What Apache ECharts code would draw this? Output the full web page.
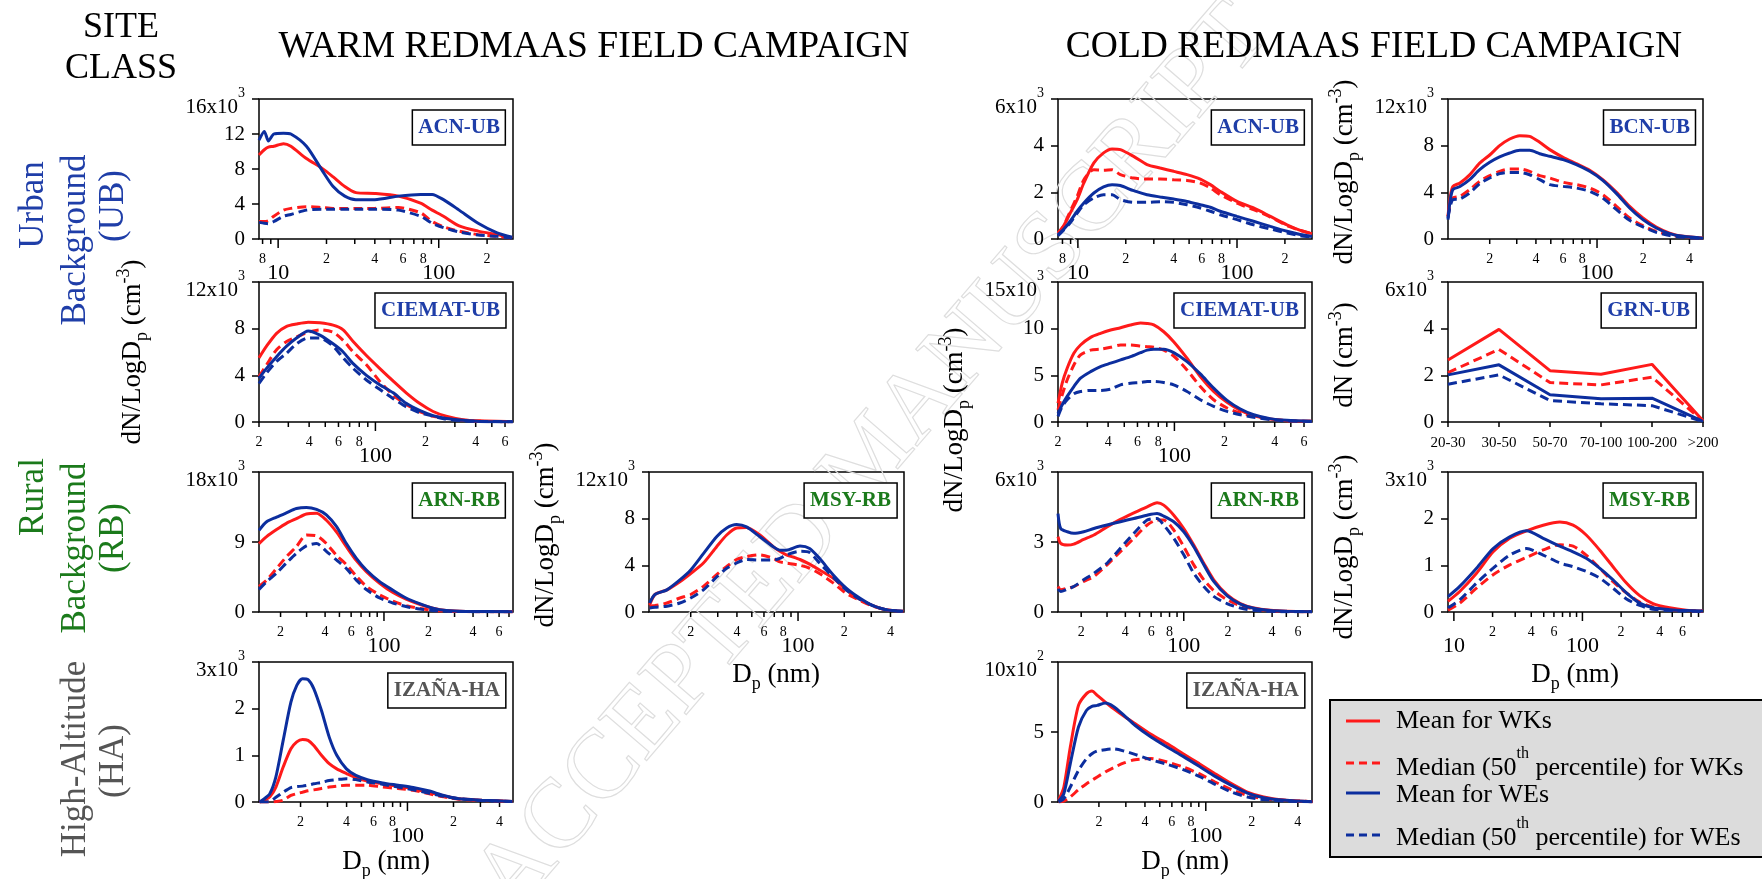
<!DOCTYPE html>
<html><head><meta charset="utf-8">
<script src="https://cdn.jsdelivr.net/npm/echarts@6/dist/echarts.min.js"></script>
<style>html,body{margin:0;padding:0;background:#fff}#c{width:1762px;height:879px}</style>
</head><body><div id="c"></div>
<script>
// ---------------- DATA ----------------
// Warm campaign, ACN-UB (x: Dp in nm, y: dN/dlogDp in 10^3 cm^-3)
var wAcnD      = [7.6, 8.2, 8.7, 9.4, 10.8, 12, 15, 18.7, 22, 26, 30.5, 40, 56, 77, 91, 107, 134, 176, 231, 287];
var wAcnMeanWK = [9.6, 10.2, 10.5, 10.6, 10.9, 10.6, 9.2, 8.1, 7.1, 6.0, 5.3, 5.2, 4.9, 4.1, 3.3, 2.6, 1.5, 0.9, 0.5, 0.15];
var wAcnMedWK  = [2.0, 2.0, 2.1, 2.6, 3.3, 3.5, 3.7, 3.6, 3.5, 3.5, 3.5, 3.5, 3.6, 3.0, 2.0, 1.4, 0.9, 0.5, 0.3, 0.1];
var wAcnMeanWE = [11.3, 12.3, 11.2, 12.0, 12.1, 12.0, 10.6, 7.9, 6.0, 4.9, 4.5, 4.5, 4.9, 5.1, 5.1, 4.5, 3.3, 1.8, 0.7, 0.2];
var wAcnMedWE  = [1.9, 1.8, 1.75, 2.0, 2.6, 2.8, 3.3, 3.4, 3.4, 3.4, 3.4, 3.4, 3.3, 2.6, 1.8, 1.3, 0.8, 0.45, 0.3, 0.1];

// Warm, CIEMAT-UB
var wCieD      = [20, 22.2, 25.5, 29.3, 33.6, 39.5, 46.4, 55.7, 64, 73.5, 88.3, 106, 128, 153, 184, 222, 266, 335, 422, 668];
var wCieMeanWK = [5.5, 6.5, 7.6, 8.2, 8.4, 8.55, 8.5, 8.3, 7.9, 6.9, 5.7, 4.6, 3.5, 2.5, 1.6, 0.9, 0.5, 0.2, 0.1, 0.03];
var wCieMedWK  = [3.9, 4.9, 6.2, 6.9, 7.3, 7.7, 7.9, 7.7, 7.0, 6.0, 4.9, 3.5, 2.3, 1.5, 0.9, 0.5, 0.35, 0.15, 0.06, 0.02];
var wCieMeanWE = [3.75, 4.6, 5.6, 6.5, 7.2, 7.8, 7.45, 6.7, 6.0, 5.0, 4.0, 3.2, 2.5, 1.6, 1.0, 0.55, 0.3, 0.15, 0.05, 0.02];
var wCieMedWE  = [3.3, 4.2, 5.2, 5.9, 6.7, 7.2, 7.2, 6.5, 5.5, 4.6, 3.6, 2.8, 2.0, 1.3, 0.8, 0.5, 0.25, 0.1, 0.05, 0.02];

// Warm, ARN-RB
var wArnD      = [14.3, 16.1, 18.8, 21.9, 25.6, 29.9, 35, 40.8, 47.7, 55.7, 65.1, 76, 93.5, 115, 141, 174, 214, 263, 359, 741];
var wArnMeanWK = [8.8, 9.7, 10.6, 11.4, 12.0, 12.6, 12.7, 11.8, 10.3, 8.4, 6.6, 5.2, 3.7, 2.5, 1.66, 1.0, 0.5, 0.2, 0.08, 0.03];
var wArnMedWK  = [3.3, 4.1, 5.6, 7.1, 8.4, 9.9, 9.8, 8.8, 7.3, 6.1, 4.6, 3.3, 2.2, 1.4, 0.8, 0.47, 0.2, 0.1, 0.05, 0.02];
var wArnMeanWE = [10.5, 11.6, 12.2, 12.75, 13.3, 13.45, 13.2, 12.5, 11.0, 8.8, 6.9, 5.4, 3.9, 2.8, 1.8, 1.07, 0.5, 0.2, 0.08, 0.03];
var wArnMedWE  = [2.9, 3.9, 5.0, 6.3, 7.55, 8.5, 8.8, 7.8, 6.7, 5.6, 4.1, 2.9, 1.8, 1.15, 0.7, 0.38, 0.2, 0.1, 0.05, 0.02];

// Warm, MSY-RB
var wMsyD      = [10.8, 11.7, 14, 17, 20, 24.2, 29.5, 34.3, 39.8, 46.2, 56.4, 68.9, 76.1, 84, 103, 119, 138, 169, 206, 252, 307, 375, 485];
var wMsyMeanWK = [0.6, 1.5, 1.9, 2.6, 3.3, 4.2, 5.6, 6.6, 7.2, 7.25, 6.6, 5.6, 5.2, 4.9, 4.5, 4.1, 3.6, 2.9, 1.9, 1.1, 0.55, 0.2, 0.06];
var wMsyMedWK  = [0.5, 0.55, 0.77, 1.2, 1.5, 2.2, 3.2, 3.9, 4.5, 4.75, 4.9, 4.6, 4.3, 4.2, 4.0, 3.75, 3.3, 2.5, 1.6, 1.0, 0.5, 0.2, 0.05];
var wMsyMeanWE = [0.77, 1.5, 1.9, 2.75, 3.6, 5.0, 6.45, 7.2, 7.5, 7.3, 6.45, 5.6, 5.3, 5.3, 5.65, 5.45, 4.6, 3.2, 2.05, 1.2, 0.55, 0.2, 0.06];
var wMsyMedWE  = [0.35, 0.4, 0.5, 0.77, 1.2, 1.9, 3.0, 3.75, 4.2, 4.5, 4.45, 4.45, 4.6, 4.9, 5.2, 5.1, 4.2, 3.0, 1.9, 1.1, 0.55, 0.2, 0.05];

// Warm, IZANA-HA
var wIzaD      = [10.8, 11.6, 12.6, 13.8, 15.4, 17.3, 18.9, 20.6, 22.4, 24.4, 27.4, 30.8, 34.5, 39.9, 46, 54.7, 68.8, 86.6, 109, 137, 173, 217, 307, 485];
var wIzaMeanWK = [0, 0.04, 0.11, 0.32, 0.75, 1.14, 1.29, 1.34, 1.32, 1.21, 1.0, 0.82, 0.71, 0.61, 0.52, 0.45, 0.39, 0.34, 0.28, 0.21, 0.13, 0.07, 0.04, 0.01];
var wIzaMedWK  = [0, 0, 0, 0.01, 0.04, 0.14, 0.18, 0.21, 0.24, 0.26, 0.29, 0.32, 0.34, 0.36, 0.36, 0.36, 0.32, 0.29, 0.25, 0.18, 0.11, 0.06, 0.03, 0.01];
var wIzaMeanWE = [0, 0.07, 0.18, 0.54, 1.32, 2.14, 2.5, 2.64, 2.62, 2.43, 1.96, 1.39, 1.0, 0.71, 0.57, 0.48, 0.41, 0.36, 0.31, 0.24, 0.14, 0.07, 0.04, 0.01];
var wIzaMedWE  = [0, 0, 0.01, 0.1, 0.21, 0.31, 0.33, 0.34, 0.36, 0.39, 0.42, 0.46, 0.48, 0.5, 0.48, 0.43, 0.38, 0.32, 0.26, 0.19, 0.12, 0.07, 0.03, 0.01];

// Cold, ACN-UB
var cAcnD      = [7.5, 8.1, 8.95, 9.9, 10.9, 12.6, 14.5, 16.4, 18.5, 22.4, 27.2, 32.9, 40, 48.5, 58.8, 68, 78.5, 100, 127, 162, 206, 250, 296];
var cAcnMeanWK = [0.26, 0.54, 1.11, 1.69, 2.4, 3.26, 3.69, 3.86, 3.83, 3.54, 3.19, 3.04, 2.9, 2.76, 2.57, 2.33, 2.04, 1.61, 1.33, 0.97, 0.61, 0.37, 0.23];
var cAcnMedWK  = [0.26, 0.54, 1.19, 1.83, 2.54, 2.97, 2.95, 2.97, 2.76, 2.61, 2.57, 2.57, 2.54, 2.51, 2.4, 2.19, 1.9, 1.54, 1.26, 0.94, 0.57, 0.37, 0.23];
var cAcnMeanWE = [0.19, 0.4, 0.76, 1.19, 1.54, 1.97, 2.23, 2.33, 2.29, 2.07, 1.9, 1.8, 1.71, 1.61, 1.47, 1.36, 1.19, 0.97, 0.76, 0.54, 0.33, 0.19, 0.11];
var cAcnMedWE  = [0.14, 0.37, 0.69, 1.11, 1.47, 1.76, 1.9, 1.9, 1.69, 1.57, 1.57, 1.6, 1.57, 1.47, 1.33, 1.19, 1.04, 0.83, 0.61, 0.43, 0.26, 0.14, 0.09];

// Cold, BCN-UB
var cBcnD      = [10.7, 11.0, 11.5, 12.8, 14.8, 17.2, 20, 23.2, 27, 31.4, 36.4, 42.3, 49.2, 60.1, 73.3, 89.6, 109, 134, 163, 199, 243, 297, 363, 490];
var cBcnMeanWK = [1.94, 3.37, 4.5, 4.8, 5.5, 6.5, 7.2, 8.0, 8.57, 8.86, 8.8, 8.29, 7.66, 7.0, 6.46, 5.89, 5.09, 4.0, 2.8, 1.8, 1.03, 0.51, 0.23, 0.09];
var cBcnMedWK  = [1.94, 2.8, 3.51, 3.66, 4.23, 4.94, 5.43, 5.8, 6.0, 6.0, 5.8, 5.43, 5.23, 4.86, 4.66, 4.37, 3.8, 2.8, 1.8, 1.14, 0.66, 0.37, 0.17, 0.06];
var cBcnMeanWE = [1.66, 3.09, 4.23, 4.5, 5.09, 5.94, 6.57, 7.03, 7.37, 7.6, 7.6, 7.31, 7.09, 6.8, 6.37, 5.8, 5.03, 3.89, 2.66, 1.66, 0.94, 0.46, 0.23, 0.06];
var cBcnMedWE  = [1.8, 2.66, 3.37, 3.43, 3.94, 4.74, 5.23, 5.6, 5.71, 5.71, 5.51, 5.09, 4.66, 4.51, 4.37, 4.09, 3.51, 2.51, 1.6, 1.03, 0.57, 0.29, 0.14, 0.05];

// Cold, CIEMAT-UB
var cCieD      = [20, 21.2, 22.7, 24.9, 27.3, 31.4, 36, 41.4, 47.5, 54.5, 62.6, 68.6, 75.2, 86.3, 99, 119, 143, 172, 207, 249, 299, 376, 473, 668];
var cCieMeanWK = [2.0, 4.16, 5.76, 7.36, 8.25, 9.07, 9.5, 9.85, 10.1, 10.4, 10.6, 10.55, 10.4, 9.67, 8.6, 6.83, 4.87, 3.27, 2.1, 1.24, 0.68, 0.32, 0.14, 0.07];
var cCieMedWK  = [1.3, 2.9, 4.5, 6.1, 7.2, 7.7, 7.8, 8.0, 8.25, 8.25, 8.15, 8.07, 8.0, 7.7, 7.07, 5.58, 3.8, 2.38, 1.5, 0.96, 0.6, 0.32, 0.14, 0.07];
var cCieMeanWE = [0.89, 1.85, 2.74, 3.8, 4.7, 5.4, 5.94, 6.3, 6.65, 7.0, 7.43, 7.7, 7.8, 7.8, 7.43, 6.47, 5.15, 3.63, 2.31, 1.39, 0.78, 0.36, 0.18, 0.07];
var cCieMedWE  = [0.6, 1.67, 2.38, 3.02, 3.27, 3.38, 3.38, 3.52, 3.98, 4.16, 4.23, 4.34, 4.34, 4.23, 3.98, 3.27, 2.38, 1.67, 1.14, 0.78, 0.5, 0.25, 0.11, 0.05];

// Cold, GRN-UB (size classes, dN in 10^3 cm^-3)
var grnCats    = ['20-30', '30-50', '50-70', '70-100', '100-200', '>200'];
var grnMeanWK  = [2.66, 3.97, 2.2, 2.05, 2.47, 0.05];
var grnMedWK   = [2.12, 3.11, 1.69, 1.59, 1.92, 0.04];
var grnMeanWE  = [2.02, 2.45, 1.17, 1.0, 1.02, 0.03];
var grnMedWE   = [1.62, 2.02, 0.92, 0.78, 0.7, 0.02];

// Cold, ARN-RB
var cArnD      = [13.9, 14.5, 16.1, 17.8, 20.8, 24.4, 30, 37, 45.7, 56.3, 65.8, 73, 85.5, 100, 117, 137, 160, 197, 243, 300, 389, 505, 748];
var cArnMeanWK = [3.23, 2.94, 2.87, 2.91, 3.11, 3.3, 3.65, 3.97, 4.25, 4.51, 4.68, 4.58, 4.15, 3.58, 2.87, 2.09, 1.38, 0.74, 0.36, 0.17, 0.07, 0.03, 0.01];
var cArnMedWK  = [1.09, 0.95, 1.02, 1.09, 1.31, 1.52, 2.02, 2.59, 3.16, 3.73, 3.94, 3.94, 3.51, 2.8, 2.02, 1.38, 0.92, 0.53, 0.27, 0.13, 0.05, 0.02, 0.01];
var cArnMeanWE = [4.22, 3.58, 3.44, 3.37, 3.44, 3.58, 3.73, 3.87, 4.01, 4.15, 4.22, 4.11, 3.87, 3.44, 2.8, 2.02, 1.31, 0.7, 0.34, 0.16, 0.06, 0.03, 0.01];
var cArnMedWE  = [0.98, 0.88, 0.98, 1.09, 1.38, 1.66, 2.09, 2.73, 3.37, 3.94, 4.01, 3.73, 3.16, 2.45, 1.66, 1.09, 0.67, 0.36, 0.17, 0.07, 0.03, 0.01, 0.01];

// Cold, MSY-RB
var cMsyD      = [9, 11.1, 15, 20.2, 27.2, 36.7, 49.5, 66.7, 84.6, 107, 136, 173, 220, 279, 354, 477, 643, 867];
var cMsyMeanWK = [0.23, 0.44, 0.83, 1.29, 1.58, 1.74, 1.86, 1.93, 1.86, 1.65, 1.33, 0.97, 0.62, 0.35, 0.18, 0.09, 0.04, 0.02];
var cMsyMedWK  = [0.04, 0.19, 0.51, 0.8, 1.01, 1.17, 1.33, 1.44, 1.41, 1.22, 0.94, 0.65, 0.41, 0.21, 0.11, 0.05, 0.03, 0.02];
var cMsyMeanWE = [0.33, 0.55, 0.94, 1.36, 1.61, 1.74, 1.58, 1.41, 1.29, 1.15, 0.94, 0.69, 0.41, 0.19, 0.09, 0.05, 0.03, 0.02];
var cMsyMedWE  = [0.09, 0.26, 0.62, 0.94, 1.22, 1.36, 1.22, 1.05, 0.97, 0.87, 0.73, 0.51, 0.28, 0.14, 0.06, 0.03, 0.02, 0.01];

// Cold, IZANA-HA (y in 10^2 cm^-3)
var cIzaD      = [10.9, 11.8, 13, 14.7, 16.6, 18, 19.5, 22, 24.9, 29.2, 34.4, 43.8, 55.8, 71.1, 90.6, 115, 147, 187, 239, 330, 498];
var cIzaMeanWK = [0.12, 1.07, 3.93, 6.9, 7.74, 7.93, 7.62, 7.14, 6.67, 6.12, 5.6, 4.83, 4.17, 3.45, 2.74, 2.02, 1.31, 0.71, 0.36, 0.12, 0.02];
var cIzaMedWK  = [0, 0.07, 0.36, 0.88, 1.31, 1.55, 1.79, 2.14, 2.45, 2.79, 3.02, 3.1, 2.86, 2.5, 2.02, 1.43, 0.88, 0.48, 0.24, 0.12, 0.02];
var cIzaMeanWE = [0.07, 0.6, 2.74, 5.36, 6.55, 6.83, 6.9, 7.07, 6.83, 6.19, 5.48, 4.64, 3.93, 3.26, 2.55, 1.83, 1.19, 0.64, 0.31, 0.12, 0.02];
var cIzaMedWE  = [0, 0.24, 1.07, 2.26, 3.1, 3.45, 3.64, 3.74, 3.79, 3.64, 3.4, 3.02, 2.69, 2.31, 1.83, 1.26, 0.71, 0.36, 0.17, 0.07, 0.01];

// Log-axis tick values and their labels
var ticksAcn  = [8, 9, 10, 20, 30, 40, 50, 60, 70, 80, 90, 100, 200];
var labelsAcn = ['8', '', '10', '2', '', '4', '', '6', '', '8', '', '100', '2'];
var ticksCie  = [20, 30, 40, 50, 60, 70, 80, 90, 100, 200, 300, 400, 500, 600];
var labelsCie = ['2', '', '4', '', '6', '', '8', '', '100', '2', '', '4', '', '6'];
var ticksArn  = [20, 30, 40, 50, 60, 70, 80, 90, 100, 200, 300, 400, 500, 600, 700];
var labelsArn = ['2', '', '4', '', '6', '', '8', '', '100', '2', '', '4', '', '6', ''];
var ticksMid  = [20, 30, 40, 50, 60, 70, 80, 90, 100, 200, 300, 400];
var labelsMid = ['2', '', '4', '', '6', '', '8', '', '100', '2', '', '4'];
var ticksMsyC  = [10, 20, 30, 40, 50, 60, 70, 80, 90, 100, 200, 300, 400, 500, 600, 700, 800];
var labelsMsyC = ['10', '2', '', '4', '', '6', '', '', '', '100', '2', '', '4', '', '6', '', ''];

var legendNames = ['Mean for WKs', 'Median (50', 'th', ' percentile) for WKs', 'Mean for WEs', ' percentile) for WEs'];

// ---------------- CHART ----------------
var FONT = 'Liberation Serif';
var RED = '#ff1a1a', BLUE = '#0c2e9e';
var UBC = '#1f3ea8', RBC = '#1b7a1b', HAC = '#555555';

var grids = [], xAxes = [], yAxes = [], series = [], titles = [], graphics = [];

function addPanel(p) {
  var i = grids.length;
  grids.push({left: p.left, top: p.top, width: p.w, height: p.h, show: true,
    borderColor: '#000', borderWidth: 1.5, backgroundColor: 'transparent'});
  if (p.cats) {
    xAxes.push({gridIndex: i, type: 'category', data: p.cats, boundaryGap: false,
      axisLine: {show: false},
      axisTick: {show: true, length: 5, alignWithLabel: true, lineStyle: {color: '#000', width: 1.5}},
      axisLabel: {fontFamily: FONT, fontSize: 15, color: '#000', margin: 14, interval: 0},
      splitLine: {show: false}});
  } else {
    xAxes.push({gridIndex: i, type: 'log', logBase: 10, min: p.xmin, max: p.xmax,
      axisLine: {show: false}, axisTick: {show: false}, axisLabel: {show: false},
      splitLine: {show: false}, minorTick: {show: false}, minorSplitLine: {show: false}});
  }
  var ymax = p.ymax, exp = p.exp;
  yAxes.push({gridIndex: i, type: 'value', min: 0, max: ymax, interval: p.yint,
    axisLine: {show: false},
    axisTick: {show: true, length: 7, lineStyle: {color: '#000', width: 1.5}},
    splitLine: {show: false},
    axisLabel: {margin: 14, color: '#000', fontFamily: FONT, fontSize: 21,
      formatter: function (v) { return v === ymax ? '{m|' + ymax + 'x10}{s|' + exp + '}' : String(v); },
      rich: {
        m: {fontFamily: FONT, fontSize: 21, color: '#000', lineHeight: 20, padding: [16, 0, 0, 0]},
        s: {fontFamily: FONT, fontSize: 14, color: '#000', lineHeight: 14, padding: [0, 0, 12, 0]}
      }}});
  var styles = [[RED, 'solid'], [RED, [9, 5]], [BLUE, 'solid'], [BLUE, [9, 5]]];
  p.s.forEach(function (ys, k) {
    var data = p.cats ? ys.slice() : p.D.map(function (x, j) { return [x, ys[j]]; });
    series.push({type: 'line', xAxisIndex: i, yAxisIndex: i, data: data, symbol: 'none', showSymbol: false,
      smooth: p.cats ? false : 0.25, silent: true,
      lineStyle: {color: styles[k][0], width: 3, type: styles[k][1]}});
  });
  if (p.ticks) {
    var labs = p.labels;
    series.push({type: 'custom', xAxisIndex: i, yAxisIndex: i, clip: false, silent: true,
      data: p.ticks.map(function (v) { return [v, 0]; }),
      renderItem: function (params, api) {
        var v = api.value(0);
        var pt = api.coord([v, 0]);
        var lg = Math.log(v) / Math.LN10;
        var major = Math.abs(lg - Math.round(lg)) < 1e-9;
        var ch = [{type: 'line', shape: {x1: pt[0], y1: pt[1], x2: pt[0], y2: pt[1] + (major ? 9 : 5)},
          style: {stroke: '#000', lineWidth: 1.5}}];
        var lab = labs[params.dataIndex];
        if (lab) {
          ch.push({type: 'text', x: pt[0], y: pt[1] + (major ? 34 : 20),
            style: {text: lab, fill: '#000', fontFamily: FONT, fontSize: major ? 22 : 14,
              align: 'center', verticalAlign: 'middle'}});
        }
        return {type: 'group', children: ch};
      }});
  }
  titles.push({text: p.name, right: 1762 - (p.left + p.w) + 7, top: p.top + 11,
    padding: [6, 6, 5, 6], borderColor: '#000', borderWidth: 1.5, backgroundColor: '#fff',
    textStyle: {fontFamily: FONT, fontWeight: 'bold', fontSize: 21, color: p.color, lineHeight: 24}});
}

var colA = 259, colB = 649, colC = 1058, colD = 1448;
var rowT = [99, 282, 472, 662];
var PW = 254, PH = 140;

addPanel({name: 'ACN-UB', color: UBC, left: colA, top: rowT[0], w: PW, h: PH, xmin: 7.6, xmax: 290, ymax: 16, yint: 4, exp: '3',
  D: wAcnD, s: [wAcnMeanWK, wAcnMedWK, wAcnMeanWE, wAcnMedWE], ticks: ticksAcn, labels: labelsAcn});
addPanel({name: 'CIEMAT-UB', color: UBC, left: colA, top: rowT[1], w: PW, h: PH, xmin: 20, xmax: 670, ymax: 12, yint: 4, exp: '3',
  D: wCieD, s: [wCieMeanWK, wCieMedWK, wCieMeanWE, wCieMedWE], ticks: ticksCie, labels: labelsCie});
addPanel({name: 'ARN-RB', color: RBC, left: colA, top: rowT[2], w: PW, h: PH, xmin: 14.3, xmax: 745, ymax: 18, yint: 9, exp: '3',
  D: wArnD, s: [wArnMeanWK, wArnMedWK, wArnMeanWE, wArnMedWE], ticks: ticksArn, labels: labelsArn});
addPanel({name: 'MSY-RB', color: RBC, left: colB, top: rowT[2], w: 255, h: PH, xmin: 10.7, xmax: 490, ymax: 12, yint: 4, exp: '3',
  D: wMsyD, s: [wMsyMeanWK, wMsyMedWK, wMsyMeanWE, wMsyMedWE], ticks: ticksMid, labels: labelsMid});
addPanel({name: 'IZAÑA-HA', color: HAC, left: colA, top: rowT[3], w: PW, h: PH, xmin: 10.7, xmax: 490, ymax: 3, yint: 1, exp: '3',
  D: wIzaD, s: [wIzaMeanWK, wIzaMedWK, wIzaMeanWE, wIzaMedWE], ticks: ticksMid, labels: labelsMid});
addPanel({name: 'ACN-UB', color: UBC, left: colC, top: rowT[0], w: PW, h: PH, xmin: 7.5, xmax: 296, ymax: 6, yint: 2, exp: '3',
  D: cAcnD, s: [cAcnMeanWK, cAcnMedWK, cAcnMeanWE, cAcnMedWE], ticks: ticksAcn, labels: labelsAcn});
addPanel({name: 'BCN-UB', color: UBC, left: colD, top: rowT[0], w: 255, h: PH, xmin: 10.7, xmax: 490, ymax: 12, yint: 4, exp: '3',
  D: cBcnD, s: [cBcnMeanWK, cBcnMedWK, cBcnMeanWE, cBcnMedWE], ticks: ticksMid, labels: labelsMid});
addPanel({name: 'CIEMAT-UB', color: UBC, left: colC, top: rowT[1], w: PW, h: PH, xmin: 20, xmax: 670, ymax: 15, yint: 5, exp: '3',
  D: cCieD, s: [cCieMeanWK, cCieMedWK, cCieMeanWE, cCieMedWE], ticks: ticksCie, labels: labelsCie});
addPanel({name: 'GRN-UB', color: UBC, left: colD, top: rowT[1], w: 255, h: PH, cats: grnCats, ymax: 6, yint: 2, exp: '3',
  s: [grnMeanWK, grnMedWK, grnMeanWE, grnMedWE]});
addPanel({name: 'ARN-RB', color: RBC, left: colC, top: rowT[2], w: PW, h: PH, xmin: 13.9, xmax: 748, ymax: 6, yint: 3, exp: '3',
  D: cArnD, s: [cArnMeanWK, cArnMedWK, cArnMeanWE, cArnMedWE], ticks: ticksArn, labels: labelsArn});
addPanel({name: 'MSY-RB', color: RBC, left: colD, top: rowT[2], w: 255, h: PH, xmin: 9, xmax: 867, ymax: 3, yint: 1, exp: '3',
  D: cMsyD, s: [cMsyMeanWK, cMsyMedWK, cMsyMeanWE, cMsyMedWE], ticks: ticksMsyC, labels: labelsMsyC});
addPanel({name: 'IZAÑA-HA', color: HAC, left: colC, top: rowT[3], w: PW, h: PH, xmin: 10.8, xmax: 495, ymax: 10, yint: 5, exp: '2',
  D: cIzaD, s: [cIzaMeanWK, cIzaMedWK, cIzaMeanWE, cIzaMedWE], ticks: ticksMid, labels: labelsMid});

// ---------- text graphics ----------
function gtext(x, y, text, size, color, rot, align, rich, z) {
  var st = {text: text, fontFamily: FONT, fontSize: size, fill: color || '#000',
    align: align || 'center', verticalAlign: 'middle'};
  if (rich) st.rich = rich;
  graphics.push({type: 'text', x: x, y: y, rotation: rot || 0, style: st, z: z || 10, silent: true});
}
var R90 = Math.PI / 2;
function riched(size) {
  return {
    n: {fontFamily: FONT, fontSize: size, lineHeight: Math.round(size * 1.35)},
    b: {fontFamily: FONT, fontSize: Math.round(size * 0.65), lineHeight: Math.round(size * 0.65), verticalAlign: 'bottom'},
    t: {fontFamily: FONT, fontSize: Math.round(size * 0.65), lineHeight: Math.round(size * 0.65), verticalAlign: 'top'}
  };
}
// watermark
graphics.push({type: 'text', x: 873, y: 458, rotation: 49.3 * Math.PI / 180, z: 0, silent: true,
  style: {text: 'ACCEPTED MANUSCRIPT', fontFamily: FONT, fontSize: 98, fill: 'rgba(255,255,255,0)',
    stroke: '#dedede', lineWidth: 1.2, align: 'center', verticalAlign: 'middle'}});

gtext(121, 28, 'SITE', 36);
gtext(121, 69, 'CLASS', 36);
gtext(594, 47, 'WARM REDMAAS FIELD CAMPAIGN', 37.5);
gtext(1374, 47, 'COLD REDMAAS FIELD CAMPAIGN', 37.5);

gtext(34, 205, 'Urban', 35, UBC, R90);
gtext(76, 240, 'Background', 35, UBC, R90);
gtext(114, 206, '(UB)', 35, UBC, R90);
gtext(34, 497, 'Rural', 35, RBC, R90);
gtext(76, 548, 'Background', 35, RBC, R90);
gtext(114, 538, '(RB)', 35, RBC, R90);
gtext(76, 759, 'High-Altitude', 35, HAC, R90);
gtext(114, 761, '(HA)', 35, HAC, R90);

var yName = '{n|dN/LogD}{b|p}{n| (cm}{t|-3}{n|)}';
gtext(133, 352, yName, 27, '#000', R90, 'center', riched(27));
gtext(546, 535, yName, 27, '#000', R90, 'center', riched(27));
gtext(955, 420, yName, 27, '#000', R90, 'center', riched(27));
gtext(1345, 172, yName, 27, '#000', R90, 'center', riched(27));
gtext(1345, 355, '{n|dN (cm}{t|-3}{n|)}', 27, '#000', R90, 'center', riched(27));
gtext(1345, 547, yName, 27, '#000', R90, 'center', riched(27));

var xName = '{n|D}{b|p}{n| (nm)}';
gtext(776, 675, xName, 27, '#000', 0, 'center', riched(27));
gtext(386, 862, xName, 27, '#000', 0, 'center', riched(27));
gtext(1185, 862, xName, 27, '#000', 0, 'center', riched(27));
gtext(1575, 675, xName, 27, '#000', 0, 'center', riched(27));

// ---------- legend ----------
graphics.push({type: 'rect', shape: {x: 1330, y: 700, width: 450, height: 157}, z: 5, silent: true,
  style: {fill: '#dcdcdc', stroke: '#000', lineWidth: 2}});
var legRows = [
  {y: 721, ty: 721, color: RED, dash: null, text: '{n|' + legendNames[0] + '}'},
  {y: 763, ty: 768, color: RED, dash: [8, 5], text: '{n|' + legendNames[1] + '}{t|' + legendNames[2] + '}{n|' + legendNames[3] + '}'},
  {y: 793, ty: 795, color: BLUE, dash: null, text: '{n|' + legendNames[4] + '}'},
  {y: 835, ty: 838, color: BLUE, dash: [8, 5], text: '{n|' + legendNames[1] + '}{t|' + legendNames[2] + '}{n|' + legendNames[5] + '}'}
];
var legRich = {
  n: {fontFamily: FONT, fontSize: 26, lineHeight: 44},
  t: {fontFamily: FONT, fontSize: 16, lineHeight: 16, verticalAlign: 'top'}
};
legRows.forEach(function (r) {
  graphics.push({type: 'line', shape: {x1: 1346, y1: r.y, x2: 1380, y2: r.y}, z: 6, silent: true,
    style: {stroke: r.color, lineWidth: 3, lineDash: r.dash}});
  graphics.push({type: 'text', x: 1396, y: r.ty, z: 6, silent: true,
    style: {text: r.text, fill: '#000', fontFamily: FONT, fontSize: 26, align: 'left', verticalAlign: 'middle', rich: legRich}});
});

var chart = echarts.init(document.getElementById('c'), null, {renderer: 'canvas'});
chart.setOption({
  animation: false,
  backgroundColor: '#fff',
  title: titles,
  grid: grids,
  xAxis: xAxes,
  yAxis: yAxes,
  series: series,
  graphic: {elements: graphics}
});
</script>
</body></html>
